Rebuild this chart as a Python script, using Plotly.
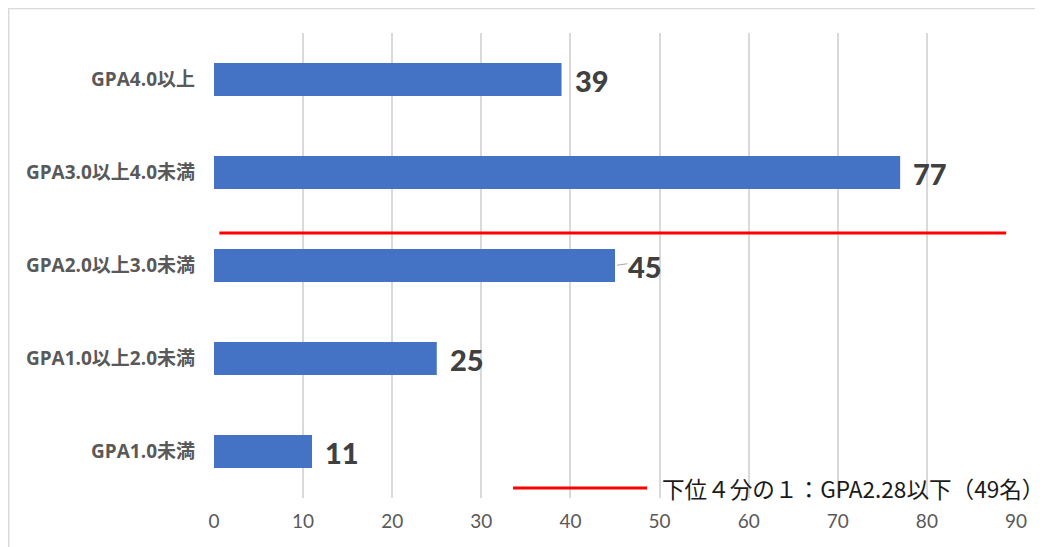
import plotly.graph_objects as go

categories = ["GPA1.0未満", "GPA1.0以上2.0未満", "GPA2.0以上3.0未満", "GPA3.0以上4.0未満", "GPA4.0以上"]
counts = [11, 25, 45, 77, 39]
x_ticks = [0, 10, 20, 30, 40, 50, 60, 70, 80, 90]
threshold_pos = 2.35  # position on category axis of GPA2.28 cut
threshold_label = "下位４分の１：GPA2.28以下（49名）"

FONT = "Lato, 'Noto Sans CJK JP', sans-serif"
LABEL_FONT = "'Open Sans', 'Noto Sans CJK JP', sans-serif"

fig = go.Figure()
fig.add_trace(go.Bar(
    y=categories, x=counts, orientation="h",
    marker=dict(color="#4472C4", line=dict(width=0)),
    showlegend=False, hoverinfo="skip",
))

for c, v in zip(categories, counts):
    fig.add_annotation(x=v, y=c, text=str(v), showarrow=False,
                       xanchor="left", xshift=11, yshift=-1,
                       font=dict(size=29, color="#404040", family=FONT, weight=900))

# small leader line for the 45 label
fig.add_annotation(x=45, y=categories[2], ax=14, ay=-2, axref="pixel", ayref="pixel",
                   text="", showarrow=True, arrowhead=0, arrowwidth=1, arrowcolor="#A6A6A6",
                   standoff=2)

# quartile line
fig.add_shape(type="line", xref="x", yref="y", x0=0.6, x1=88.9,
              y0=threshold_pos, y1=threshold_pos,
              line=dict(color="#FF0000", width=3))
# legend-like sample
fig.add_shape(type="line", xref="paper", yref="paper", x0=0.3728, x1=0.540,
              y0=0.0215, y1=0.0215, line=dict(color="#FF0000", width=3))
fig.add_annotation(xref="paper", yref="paper", x=0.556, y=0.0215,
                   text=threshold_label, showarrow=False, xanchor="left", yanchor="middle",
                   font=dict(size=22.6, color="#1A1A1A", family="'Noto Sans CJK JP', sans-serif"))
# outer frame
fig.add_shape(type="rect", xref="paper", yref="paper", x0=-0.2560, x1=1.2,
              y0=-0.3, y1=1.0525, line=dict(color="#D9D9D9", width=1.5), layer="below")

fig.update_layout(
    width=1043, height=547,
    margin=dict(l=206, r=35, t=25, b=57),
    paper_bgcolor="white", plot_bgcolor="white",
    bargap=0.645,
    font=dict(family=FONT),
    xaxis=dict(range=[0, 90], tickvals=x_ticks, showgrid=True, gridcolor="#D9D9D9",
               gridwidth=1.5, zeroline=False, showline=False, ticks="",
               ticklabelstandoff=10,
               tickfont=dict(size=19, color="#595959", family=FONT)),
    yaxis=dict(categoryorder="array", categoryarray=categories, showgrid=False,
               ticks="", showline=False, ticklabelstandoff=18,
               tickfont=dict(size=19, color="#595959", family=LABEL_FONT, weight="bold")),
)
fig.write_html("out.html")
